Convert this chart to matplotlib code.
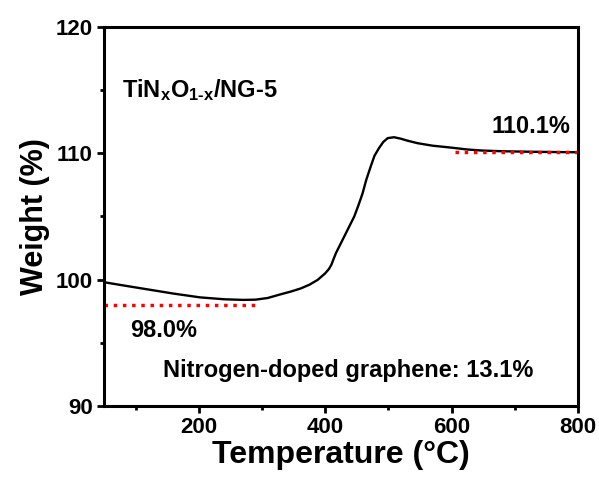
import matplotlib
matplotlib.use('Agg')
import matplotlib.pyplot as plt

# TGA curve of TiNxO1-x/NG-5 in air
temperature = [50, 80, 123, 160, 202, 240, 271, 290, 309, 330, 345, 361, 375, 388,
               400, 406, 410, 413, 417, 425, 435, 446, 452, 459, 465, 472, 478, 485,
               492, 499, 509, 520, 530, 546, 570, 599, 625, 647, 680, 726, 760, 800]
weight = [99.8, 99.55, 99.2, 98.9, 98.6, 98.45, 98.4, 98.42, 98.55, 98.85, 99.05, 99.3,
          99.6, 99.98, 100.5, 100.85, 101.2, 101.6, 102.1, 102.9, 103.9, 105.0, 105.8,
          106.8, 107.9, 108.95, 109.8, 110.4, 110.9, 111.2, 111.27, 111.15, 111.0,
          110.8, 110.6, 110.45, 110.3, 110.22, 110.16, 110.12, 110.1, 110.08]

# plateau levels marked with dotted red lines
low_level = 98.0
low_range = [50, 290]
high_level = 110.1
high_range = [605, 800]
graphene_content = 13.1

plt.rcParams['font.family'] = 'Liberation Sans'
plt.rcParams['font.weight'] = 'bold'
plt.rcParams['mathtext.fontset'] = 'custom'
plt.rcParams['mathtext.rm'] = 'Liberation Sans:bold'
plt.rcParams['mathtext.it'] = 'Liberation Sans:bold'
plt.rcParams['mathtext.bf'] = 'Liberation Sans:bold'

fig = plt.figure(figsize=(5.99, 4.8), dpi=100)
ax = fig.add_axes([0.1736, 0.154, 0.7913, 0.79])

ax.plot(temperature, weight, color='black', lw=1.7)
ax.plot(low_range, [low_level, low_level], color='red', ls=':', lw=2.5)
ax.plot(high_range, [high_level, high_level], color='red', ls=':', lw=2.5)

ax.set_xlim(50, 800)
ax.set_ylim(90, 120)
ax.set_xticks([200, 400, 600, 800])
ax.set_xticks([100, 300, 500, 700], minor=True)
ax.set_yticks([90, 100, 110, 120])
ax.set_yticks([95, 105, 115], minor=True)

for side in ax.spines.values():
    side.set_linewidth(2.2)
ax.tick_params(which='major', direction='out', length=5, width=2, labelsize=16, pad=3)
ax.tick_params(which='minor', direction='out', length=3, width=2)
for lab in ax.get_xticklabels() + ax.get_yticklabels():
    lab.set_fontweight('bold')

ax.set_xlabel('Temperature (°C)', fontsize=23, fontweight='bold', labelpad=1)
ax.set_ylabel('Weight (%)', fontsize=22, fontweight='bold', labelpad=4)

ax.text(78, 115.0, r'TiN$_x$O$_{1\text{-}x}$/NG-5', fontsize=17, fontweight='bold',
        ha='left', va='center')
ax.text(663, 112.1, f'{high_level:.1f}%', fontsize=17, fontweight='bold',
        ha='left', va='center')
ax.text(91, 96.0, f'{low_level:.1f}%', fontsize=17, fontweight='bold',
        ha='left', va='center')
ax.text(143, 92.85, f'Nitrogen-doped graphene: {graphene_content}%', fontsize=17,
        fontweight='bold', ha='left', va='center')

fig.savefig('out.png', dpi=100)
